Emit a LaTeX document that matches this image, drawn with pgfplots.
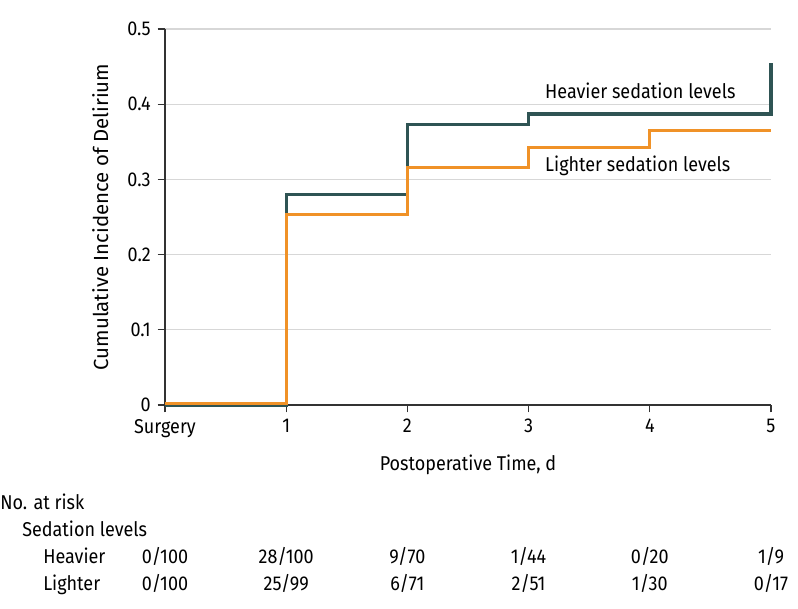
\documentclass[border=0pt]{standalone}
\usepackage{pgfplots}
\pgfplotsset{compat=1.18}
\usepackage{fontspec}
\setmainfont{Fira Sans}[FakeStretch=0.9]
\newfontfamily\ylabfont{Fira Sans}
\definecolor{heavy}{RGB}{47,84,84}
\definecolor{light}{RGB}{240,146,40}
\definecolor{gridc}{RGB}{215,215,215}
\begin{document}
\fontsize{15}{18}\selectfont
\begin{tikzpicture}
\begin{axis}[
  scale only axis,
  width=454.5pt, height=282pt,
  xmin=0, xmax=5, ymin=0, ymax=0.5,
  axis x line*=bottom, axis y line*=left,
  axis line style={black!80, line width=0.8pt},
  xtick={0,1,2,3,4,5},
  xticklabels={Surgery,1,2,3,4,5},
  ytick={0,0.1,0.2,0.3,0.4,0.5},
  yticklabel style={/pgf/number format/fixed},
  /pgf/number format/assume math mode=true,
  tick style={black!80, line width=0.8pt},
  tick align=outside,
  major tick length=5.5pt,
  ymajorgrids,
  grid style={gridc, line width=0.8pt},
  xlabel={Postoperative Time, d},
  ylabel={Cumulative Incidence of Delirium},
  xlabel style={yshift=-3pt, font=\fontsize{15}{18}\selectfont},
  ylabel style={yshift=4pt, font=\ylabfont\fontsize{15.3}{18}\selectfont},
  clip=false,
  tick label style={font=\fontsize{15}{18}\selectfont},
]
\addplot[const plot, heavy, line width=2.3pt] coordinates {
  (0,0) (1,0.280) (2,0.373) (3,0.387) (5,0.455)
};
\addplot[const plot, light, line width=2.3pt] coordinates {
  (0,0.002) (1,0.253) (2,0.316) (3,0.342) (4,0.365) (5,0.365)
};
\node[anchor=base west, inner sep=0pt] at (axis cs:3.135,0.408) {Heavier sedation levels};
\node[anchor=base west, inner sep=0pt] at (axis cs:3.135,0.310) {Lighter sedation levels};
% risk table
\path (axis cs:0,0) ++(-123.75pt,-78pt) node[anchor=base west,inner sep=0pt] {No. at risk};
\path (axis cs:0,0) ++(-107.25pt,-98.25pt) node[anchor=base west,inner sep=0pt] {Sedation levels};
\path (axis cs:0,0) ++(-91.5pt,-118.5pt) node[anchor=base west,inner sep=0pt] {Heavier};
\path (axis cs:0,0) ++(-91.5pt,-138.75pt) node[anchor=base west,inner sep=0pt] {Lighter};
\path (axis cs:0,0) ++(0,-118.5pt) node[anchor=base,inner sep=0pt] {0/100};
\path (axis cs:1,0) ++(0,-118.5pt) node[anchor=base,inner sep=0pt] {28/100};
\path (axis cs:2,0) ++(0,-118.5pt) node[anchor=base,inner sep=0pt] {9/70};
\path (axis cs:3,0) ++(0,-118.5pt) node[anchor=base,inner sep=0pt] {1/44};
\path (axis cs:4,0) ++(0,-118.5pt) node[anchor=base,inner sep=0pt] {0/20};
\path (axis cs:5,0) ++(0,-118.5pt) node[anchor=base,inner sep=0pt] {1/9};
\path (axis cs:0,0) ++(0,-138.75pt) node[anchor=base,inner sep=0pt] {0/100};
\path (axis cs:1,0) ++(0,-138.75pt) node[anchor=base,inner sep=0pt] {25/99};
\path (axis cs:2,0) ++(0,-138.75pt) node[anchor=base,inner sep=0pt] {6/71};
\path (axis cs:3,0) ++(0,-138.75pt) node[anchor=base,inner sep=0pt] {2/51};
\path (axis cs:4,0) ++(0,-138.75pt) node[anchor=base,inner sep=0pt] {1/30};
\path (axis cs:5,0) ++(0,-138.75pt) node[anchor=base,inner sep=0pt] {0/17};
\end{axis}
\pgfresetboundingbox
\path (-123.75pt,-153pt) rectangle (474.75pt,303.75pt);
\end{tikzpicture}
\end{document}
